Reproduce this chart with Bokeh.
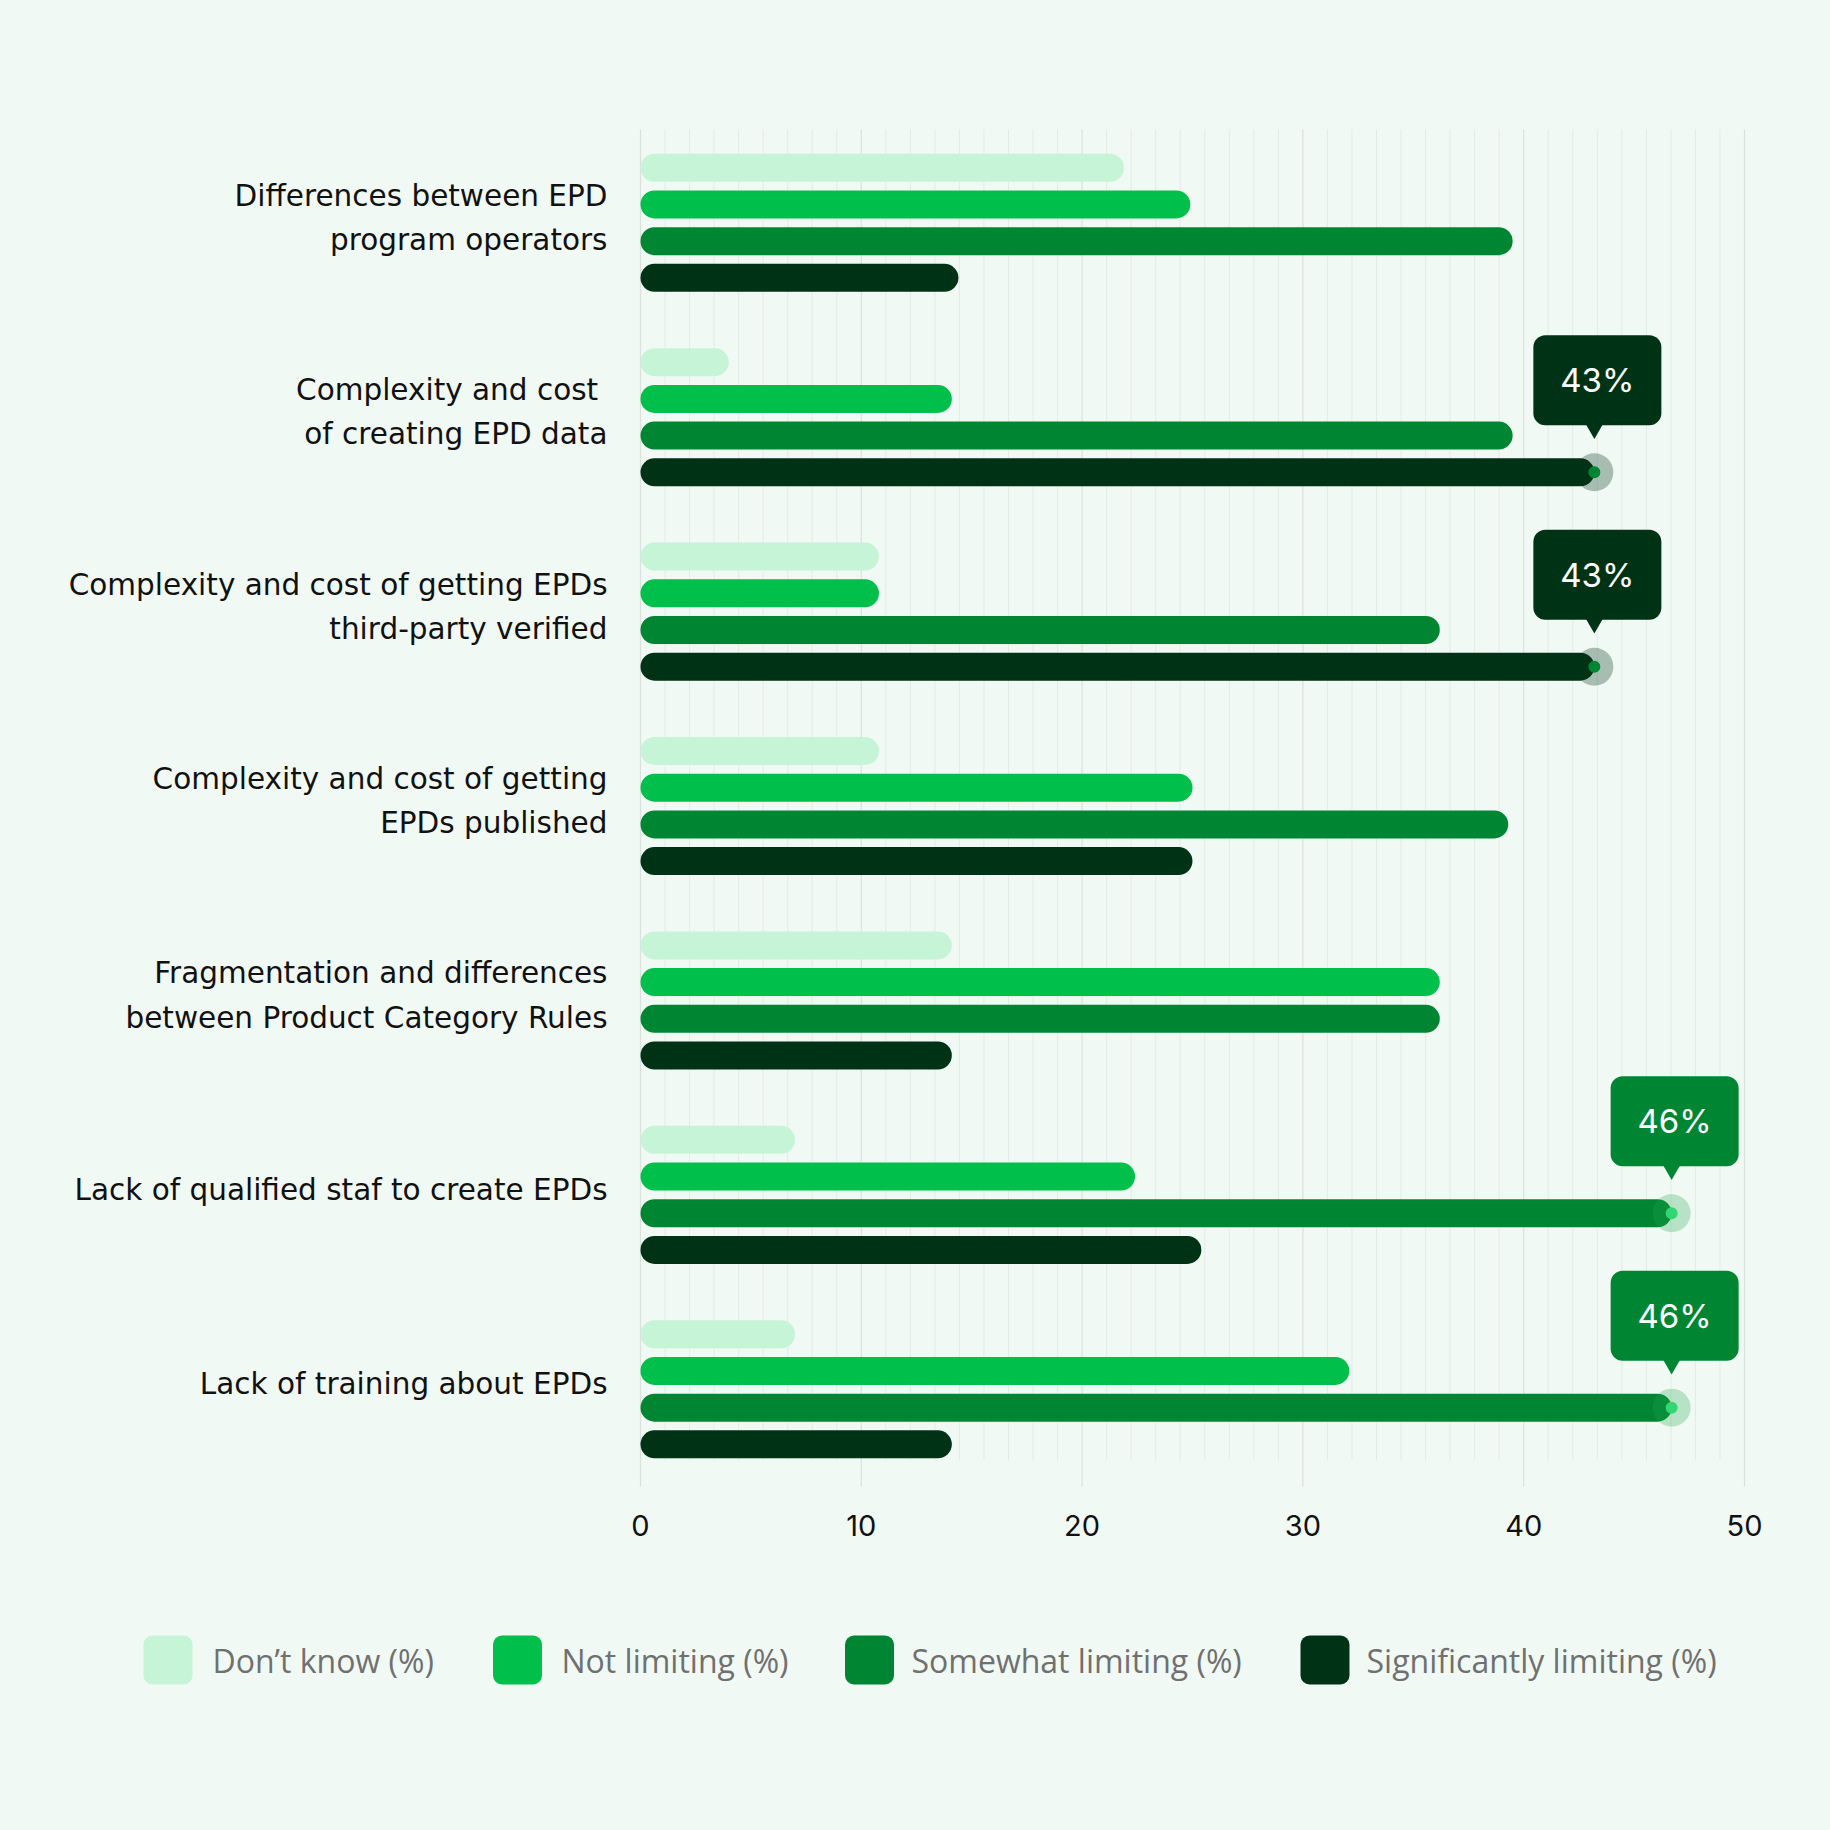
from bokeh.plotting import figure
from bokeh.models import Range1d
from bokeh.embed import file_html
from bokeh.resources import INLINE
from bokeh.core.properties import value
import numpy as np

# ---------------- data ----------------
categories = [
    "Differences between EPD\nprogram operators",
    "Complexity and cost \nof creating EPD data",
    "Complexity and cost of getting EPDs\nthird-party verified",
    "Complexity and cost of getting\nEPDs published",
    "Fragmentation and differences\nbetween Product Category Rules",
    "Lack of qualified staf to create EPDs",
    "Lack of training about EPDs",
]
series = ["Don’t know (%)", "Not limiting (%)", "Somewhat limiting (%)", "Significantly limiting (%)"]
dont_know = [21.9, 4.0, 10.8, 10.8, 14.1, 7.0, 7.0]
not_limiting = [24.9, 14.1, 10.8, 25.0, 36.2, 22.4, 32.1]
somewhat_limiting = [39.5, 39.5, 36.2, 39.3, 36.2, 46.7, 46.7]
significantly_limiting = [14.4, 43.2, 43.2, 25.0, 14.1, 25.4, 14.1]
x_ticks = [0, 10, 20, 30, 40, 50]
callout_groups = [1, 2, 5, 6]
callout_series = [3, 3, 2, 2]
callout_labels = ["43%", "43%", "46%", "46%"]

# ---------------- style / layout ----------------
BG = "#F1F9F4"
colors = ["#C6F4D6", "#00BF4A", "#008633", "#003316"]
halo_colors = {3: "#003316", 2: "#1FA84F"}
halo_alpha = {3: 0.3, 2: 0.28}
inner_colors = {3: "#008633", 2: "#33D673"}
FONT = "Inter"
CAT_FONT = "DejaVu Sans"
LEG_FONT = "Open Sans"

W = 1830
H = 1830
# plotting area in canvas px: x 0 -> 640, x 50 -> 1744; groups from 129 to 1486
FL, FR, FT, FB = 640, 1744, 129, 1486
X_MAX = 50
Y_TOP, Y_BOT = -0.48, 6.50
sx = (FR - FL) / X_MAX
ppu = (FB - FT) / (Y_BOT - Y_TOP)


def px_x(px):
    return (px - FL) / sx


def px_y(py):
    return Y_TOP + (py - FT) / ppu


bar_step = 36.7 / ppu
bar_h = 28 / ppu

values = [dont_know, not_limiting, somewhat_limiting, significantly_limiting]
n = len(categories)

p = figure(width=W, height=H, output_backend="svg", toolbar_location=None,
           x_range=Range1d(px_x(0), px_x(W)), y_range=Range1d(px_y(H), px_y(0)),
           x_axis_location=None, y_axis_location=None,
           min_border=0, min_border_left=0, min_border_right=0,
           min_border_top=0, min_border_bottom=0)
p.background_fill_color = BG
p.border_fill_color = BG
p.outline_line_color = None
p.grid.visible = False

# grid lines
p.segment(x0=x_ticks, x1=x_ticks, y0=[px_y(FT)] * len(x_ticks), y1=[px_y(FB)] * len(x_ticks),
          line_color="#DAE2DC", line_width=1.2)
minor = []
for a, b in zip(x_ticks[:-1], x_ticks[1:]):
    minor += list(np.linspace(a, b, 10)[1:-1])
p.segment(x0=minor, x1=minor, y0=[px_y(FT)] * len(minor), y1=[px_y(1460)] * len(minor),
          line_color="#E3EBE5", line_width=1)

# x tick labels
p.text(x=x_ticks, y=[px_y(1525)] * len(x_ticks), text=[str(t) for t in x_ticks],
       text_align="center", text_baseline="middle", text_color="#111111",
       text_font=value(FONT), text_font_size="29px")

# category labels
p.text(x=[0] * n, y=list(range(n)), text=categories, x_offset=-33, y_offset=-5,
       text_align="right", text_baseline="middle", text_color="#111111",
       text_font=value(CAT_FONT), text_font_size="29.5px", text_line_height=1.3)

# bars
offsets = [(-1.5 + j) * bar_step for j in range(4)]
for j, vals in enumerate(values):
    ys = [g + offsets[j] for g in range(n)]
    p.hbar(y=ys, left=0, right=vals, height=bar_h, fill_color=colors[j],
           line_color=None, border_radius=14)

# callouts
cx = [values[s][g] for g, s in zip(callout_groups, callout_series)]
cy = [g + offsets[s] for g, s in zip(callout_groups, callout_series)]
for x, y, s, lab in zip(cx, cy, callout_series, callout_labels):
    p.scatter([x], [y], size=38, marker="circle", fill_color=halo_colors[s],
              fill_alpha=halo_alpha[s], line_color=None)
    p.scatter([x], [y], size=12, marker="circle", fill_color=inner_colors[s], line_color=None)
    by = y - 92 / ppu
    bx = x + 3 / sx
    p.rect([bx], [by], width=128, height=90, width_units="screen", height_units="screen",
           fill_color=colors[s], line_color=None, border_radius=12)
    p.scatter([x], [y - 43 / ppu], size=17, marker="inverted_triangle",
              fill_color=colors[s], line_color=None)
    p.text([bx], [by], text=[lab], text_align="center", text_baseline="middle",
           text_color="white", text_font=value(FONT), text_font_size="33px")

# legend
sw_px = [167.5, 517, 869, 1324.5]
tx_px = [212, 561, 911, 1366]
leg_py = 1659.5
p.rect(x=[px_x(v) for v in sw_px], y=[px_y(leg_py)] * 4, width=49, height=49,
       width_units="screen", height_units="screen", fill_color=colors,
       line_color=None, border_radius=9)
p.text(x=[px_x(v) for v in tx_px], y=[px_y(leg_py)] * 4, text=series,
       text_align="left", text_baseline="middle", text_color="#707070",
       text_font=value(LEG_FONT), text_font_size="32px")

html = file_html(p, INLINE, title="EPD barriers")
html = html.replace("<head>", "<head><style>html, body {margin:0; padding:0; overflow:hidden; background: %s;}</style>" % BG, 1)
open("out.html", "w").write(html)
